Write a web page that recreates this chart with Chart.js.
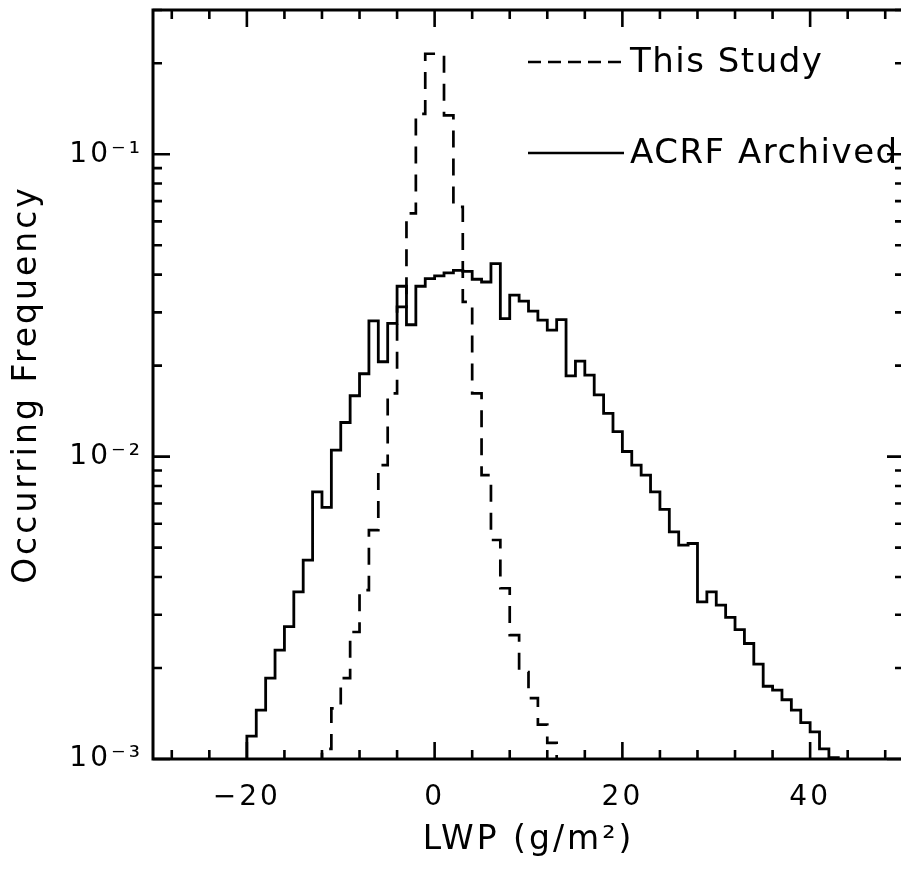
<!DOCTYPE html>
<html><head><meta charset="utf-8">
<script src="https://cdn.jsdelivr.net/npm/chart.js@4/dist/chart.umd.min.js"></script>
<style>html,body{margin:0;padding:0;background:#fff;overflow:hidden;} canvas{display:block;}</style>
</head><body>
<canvas id="c" width="906" height="869"></canvas>
<script>
// ---- data (bin left edges, g/m^2, bin width 1) ----
const acrfBins = [-21,-20,-19,-18,-17,-16,-15,-14,-13,-12,-11,-10,-9,-8,-7,-6,-5,-4,-3,-2,-1,0,1,2,3,4,5,6,7,8,9,10,11,12,13,14,15,16,17,18,19,20,21,22,23,24,25,26,27,28,29,30,31,32,33,34,35,36,37,38,39,40,41,42,43];
const acrfFreq = [0.0007,0.00119,0.00145,0.00185,0.00229,0.00274,0.00357,0.00455,0.00765,0.00679,0.01051,0.01297,0.0159,0.0188,0.0281,0.0206,0.0276,0.0366,0.0273,0.0366,0.0388,0.0396,0.0405,0.0413,0.0410,0.0386,0.0378,0.0435,0.0286,0.0342,0.0327,0.0303,0.0283,0.0262,0.0284,0.0185,0.0207,0.0186,0.0160,0.0139,0.0121,0.0104,0.00937,0.00869,0.00765,0.00669,0.00564,0.0051,0.00516,0.00331,0.00357,0.00323,0.00294,0.00268,0.00241,0.00206,0.00174,0.00169,0.00157,0.00145,0.00132,0.00123,0.00108,0.00101,0.0008];
const studyBins = [-13,-12,-11,-10,-9,-8,-7,-6,-5,-4,-3,-2,-1,0,1,2,3,4,5,6,7,8,9,10,11,12,13];
const studyFreq = [0.0008,0.00108,0.00147,0.00185,0.00263,0.00362,0.00571,0.00937,0.0162,0.0313,0.0638,0.136,0.215,0.215,0.1345,0.0670,0.0325,0.0162,0.00869,0.0053,0.00367,0.00257,0.00194,0.00159,0.00130,0.00113,0.0008];
const seriesLabels = ['This Study', 'ACRF Archived'];
const xMajorTicks = [-20, 0, 20, 40];
const xMinorTicks = [-28,-24,-16,-12,-8,-4,4,8,12,16,24,28,32,36,44,48];
const yMajorTicks = [0.001, 0.01, 0.1];
const yTickLabels = ['10⁻³', '10⁻²', '10⁻¹'];
const yMinorTicks = [0.002,0.003,0.004,0.005,0.006,0.007,0.008,0.009,0.02,0.03,0.04,0.05,0.06,0.07,0.08,0.09,0.2,0.3];
const xTitle = 'LWP (g/m²)';
const yTitle = 'Occurring Frequency';

function toSteps(bins, vals) {
  const pts = bins.map((b, i) => ({x: b, y: vals[i]}));
  pts.push({x: bins[bins.length - 1] + 1, y: vals[vals.length - 1]});
  return pts;
}

Chart.defaults.font.family = "'DejaVu Sans', sans-serif";
Chart.defaults.color = '#000';

const spacing = {
  id: 'spacing',
  beforeUpdate(chart) { chart.ctx.letterSpacing = '3px'; },
  beforeDraw(chart) { chart.ctx.letterSpacing = '3px'; }
};

const frame = {
  id: 'frame',
  afterDatasetsDraw(chart) {
    const {ctx, chartArea: a, scales: {x, y}} = chart;
    ctx.save();
    ctx.strokeStyle = '#000';
    ctx.setLineDash([]);
    ctx.lineWidth = 2.6;
    ctx.beginPath();
    for (const [vals, len] of [[xMajorTicks, 17], [xMinorTicks, 9]]) {
      for (const v of vals) {
        const px = x.getPixelForValue(v);
        ctx.moveTo(px, a.bottom); ctx.lineTo(px, a.bottom - len);
        ctx.moveTo(px, a.top); ctx.lineTo(px, a.top + len);
      }
    }
    for (const [vals, len] of [[yMajorTicks, 17], [yMinorTicks, 9]]) {
      for (const v of vals) {
        const py = y.getPixelForValue(v);
        ctx.moveTo(a.left, py); ctx.lineTo(a.left + len, py);
        ctx.moveTo(a.right, py); ctx.lineTo(a.right - len, py);
      }
    }
    ctx.stroke();
    ctx.lineWidth = 3;
    ctx.strokeRect(a.left, a.top, a.right - a.left, a.bottom - a.top);
    ctx.restore();
  }
};

const insideLegend = {
  id: 'insideLegend',
  afterDraw(chart) {
    const {ctx} = chart;
    const rows = [{ds: 0, y: 62, dash: [13, 7]}, {ds: 1, y: 153, dash: []}];
    ctx.save();
    ctx.letterSpacing = '1.5px';
    ctx.font = "34px 'DejaVu Sans', sans-serif";
    ctx.fillStyle = '#000';
    ctx.strokeStyle = '#000';
    ctx.lineWidth = 2.6;
    ctx.textBaseline = 'alphabetic';
    ctx.textAlign = 'left';
    for (const r of rows) {
      const ds = chart.data.datasets[r.ds];
      ctx.setLineDash(r.dash);
      ctx.beginPath();
      ctx.moveTo(528, r.y); ctx.lineTo(624, r.y);
      ctx.stroke();
      ctx.fillText(ds.label, 630, r.y + 10);
    }
    ctx.restore();
  }
};

new Chart(document.getElementById('c').getContext('2d'), {
  type: 'line',
  data: {
    datasets: [
      {label: seriesLabels[0], data: toSteps(studyBins, studyFreq), stepped: 'before',
       borderColor: '#000', borderWidth: 2.7, borderDash: [17, 11], borderCapStyle: 'butt',
       pointRadius: 0, fill: false},
      {label: seriesLabels[1], data: toSteps(acrfBins, acrfFreq), stepped: 'before',
       borderColor: '#000', borderWidth: 2.8, pointRadius: 0, fill: false}
    ]
  },
  options: {
    responsive: false, animation: false, devicePixelRatio: 1,
    layout: {padding: {top: 10, right: 2, left: 0, bottom: 0}},
    plugins: {legend: {display: false}, tooltip: {enabled: false}},
    scales: {
      x: {
        type: 'linear', min: -30, max: 50,
        afterBuildTicks(s) { s.ticks = xMajorTicks.map(v => ({value: v})); },
        ticks: {callback: v => (v < 0 ? '\u2212' + Math.abs(v) : String(v)),
                font: {size: 28}, color: '#000', padding: 22, maxRotation: 0, autoSkip: false},
        grid: {display: false, drawTicks: false},
        border: {display: false},
        title: {display: true, text: xTitle, font: {size: 33}, color: '#000', padding: {top: 0, bottom: 9}},
        afterFit(s) { s.height = 110; s.paddingLeft = 0; s.paddingRight = 0; }
      },
      y: {
        type: 'logarithmic', min: 0.001, max: 0.3,
        afterBuildTicks(s) { s.ticks = yMajorTicks.map(v => ({value: v})); },
        ticks: {callback: v => yTickLabels[yMajorTicks.indexOf(v)],
                font: {size: 28}, color: '#000', padding: 10, autoSkip: false},
        grid: {display: false, drawTicks: false},
        border: {display: false},
        title: {display: true, text: yTitle, font: {size: 33}, color: '#000', padding: {top: 8, bottom: 0}},
        afterFit(s) { s.width = 153; s.paddingTop = 0; s.paddingBottom = 0; }
      }
    }
  },
  plugins: [spacing, frame, insideLegend]
});
</script>
</body></html>
